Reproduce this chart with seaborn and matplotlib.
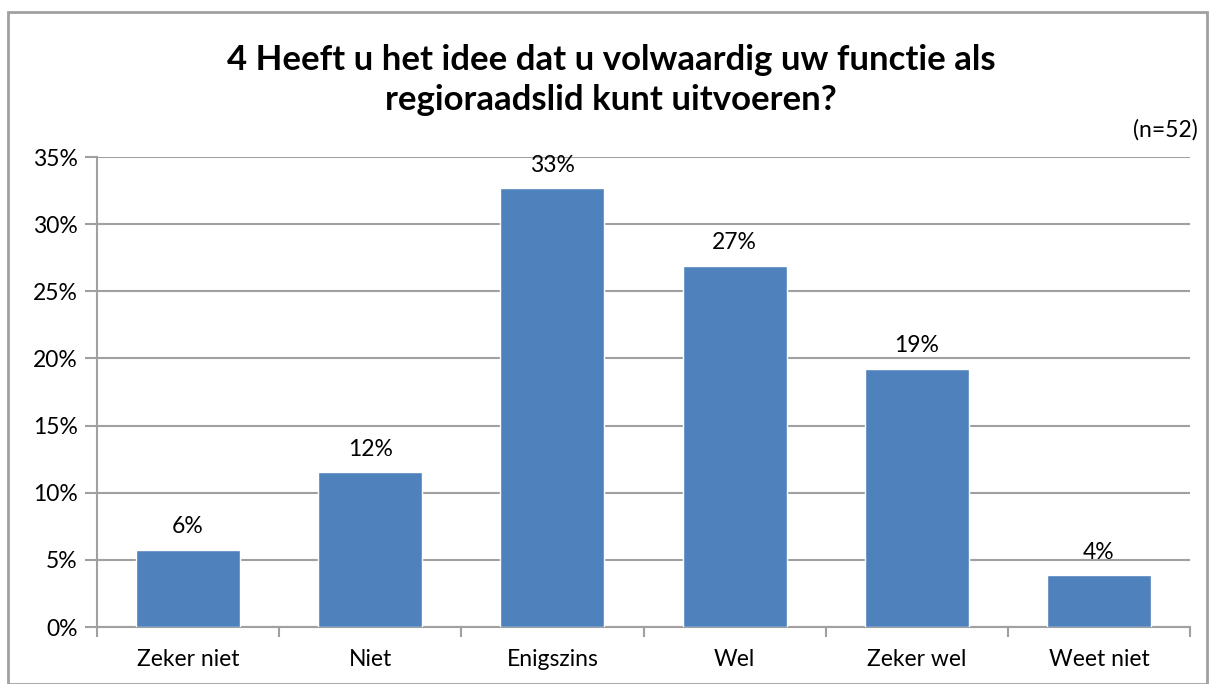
import matplotlib
matplotlib.use("Agg")
import matplotlib.pyplot as plt
import seaborn as sns
import pandas as pd
from matplotlib.patches import Rectangle
from matplotlib.ticker import PercentFormatter, FixedLocator

categories = ["Zeker niet", "Niet", "Enigszins", "Wel", "Zeker wel", "Weet niet"]
values = [5.77, 11.54, 32.69, 26.92, 19.23, 3.85]
labels = ["6%", "12%", "33%", "27%", "19%", "4%"]
yticks = [0, 5, 10, 15, 20, 25, 30, 35]
title = "4 Heeft u het idee dat u volwaardig uw functie als\nregioraadslid kunt uitvoeren?"
note = "(n=52)"

sns.set_theme(style="white")
plt.rcParams["font.family"] = ["Lato", "DejaVu Sans"]

df = pd.DataFrame({"cat": categories, "val": values})

fig = plt.figure(figsize=(12.15, 6.84), dpi=100)
ax = fig.add_axes([97/1215, 1-627/684, (1190-97)/1215, (627-157)/684])

sns.barplot(data=df, x="cat", y="val", color="#4F81BD", saturation=1,
            width=0.57, ax=ax, zorder=3)

fs = 16.5
ax.set_ylim(0, 35)
ax.set_xlim(-0.5, len(categories)-0.5)
ax.yaxis.set_major_locator(FixedLocator(yticks))
ax.yaxis.set_major_formatter(PercentFormatter(decimals=0))
ax.grid(axis="y", color="#A0A0A0", linewidth=1.5, zorder=0)
ax.set_axisbelow(True)
for s in ["top", "right"]:
    ax.spines[s].set_visible(False)
for s in ["left", "bottom"]:
    ax.spines[s].set_color("#A0A0A0")
    ax.spines[s].set_linewidth(1.5)
ax.set_xlabel("")
ax.set_ylabel("")
ax.tick_params(axis="y", which="major", length=9, width=1.5, color="#A0A0A0",
               direction="out", labelsize=fs, pad=5, left=True)
ax.tick_params(axis="x", which="major", length=0, labelsize=fs, pad=16)
ax.set_xticks(range(len(categories)))
ax.set_xticklabels(categories)
ax.set_xticks([i - 0.5 for i in range(len(categories)+1)], minor=True)
ax.tick_params(axis="x", which="minor", length=7, width=1.5, color="#A0A0A0",
               direction="out", bottom=True)
for lab in ax.get_yticklabels() + ax.get_xticklabels():
    lab.set_color("black")

for i, (v, t) in enumerate(zip(values, labels)):
    ax.annotate(t, (i, v), xytext=(0, 9), textcoords="offset points",
                ha="center", va="bottom", fontsize=fs, color="black")

fig.text(0.503, 1-80/684, title, ha="center", va="center", fontsize=25,
         fontweight="bold", linespacing=1.27, color="black")
fig.text(1198/1215, 1-130/684, note, ha="right", va="center", fontsize=fs,
         color="black")

fig.patches.append(Rectangle((8/1215, 0), 1-16/1215, 1-12/684,
                             transform=fig.transFigure, fill=False,
                             edgecolor="#A0A0A0", linewidth=2))

fig.savefig("out.png", dpi=100)
